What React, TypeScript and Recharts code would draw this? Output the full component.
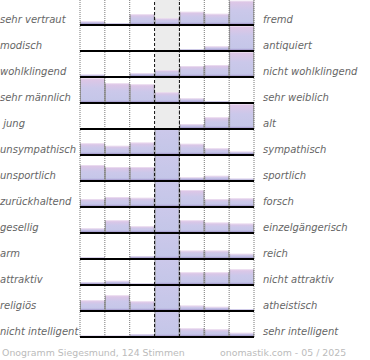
import React from 'react';
import { BarChart, Bar, XAxis, YAxis, ReferenceLine, ReferenceArea } from 'recharts';

const leftLabels = [
  'sehr vertraut', 'modisch', 'wohlklingend', 'sehr männlich', ' jung', 'unsympathisch',
  'unsportlich', 'zurückhaltend', 'gesellig', 'arm', 'attraktiv', 'religiös', 'nicht intelligent',
];
const rightLabels = [
  'fremd', 'antiquiert', 'nicht wohlklingend', 'sehr weiblich', 'alt', 'sympathisch',
  'sportlich', 'forsch', 'einzelgängerisch', 'reich', 'nicht attraktiv', 'atheistisch', 'sehr intelligent',
];
const steps = ['1', '2', '3', '4', '5', '6', '7'];

// share per step (scale top = 100, values above are off the scale)
const rowVertraut = [15, 7, 43, 27, 53, 45, 97];
const rowModisch = [0, 0, 0, 0, 8, 19, 100];
const rowWohlklingend = [9, 0, 16, 28, 44, 48, 100];
const rowMaennlich = [99, 79, 75, 43, 19, 8, 0];
const rowJung = [0, 4, 0, 0, 20, 47, 100];
const rowSympathisch = [47, 37, 50, 160, 45, 27, 14];
const rowSportlich = [64, 56, 56, 160, 15, 21, 9];
const rowForsch = [32, 40, 37, 160, 68, 32, 35];
const rowGesellig = [19, 51, 27, 160, 51, 42, 38];
const rowReich = [6, 0, 11, 160, 34, 34, 21];
const rowAttraktiv = [11, 17, 6, 160, 51, 51, 63];
const rowReligioes = [43, 63, 39, 160, 22, 17, 7];
const rowIntelligent = [5, 5, 10, 160, 35, 31, 17];

const rows = [
  rowVertraut, rowModisch, rowWohlklingend, rowMaennlich, rowJung, rowSympathisch,
  rowSportlich, rowForsch, rowGesellig, rowReich, rowAttraktiv, rowReligioes, rowIntelligent,
];

const footerLeft = 'Onogramm Siegesmund, 124 Stimmen';
const footerRight = 'onomastik.com - 05 / 2025';

const ROW_H = 26;
const PLOT_LEFT = 80;
const PLOT_W = 174;
const midStep = steps[Math.floor(steps.length / 2)];

const makeShape = (i: number) => (p: any) => {
  const { x, y, width, height } = p;
  if (!(height > 0)) return <g />;
  const strip = Math.min(2.5, height);
  return (
    <g>
      <rect x={x} y={y} width={width} height={height} fill={`url(#body-${i})`} />
      <rect x={x} y={y + height - strip} width={width} height={strip} fill={`url(#foot-${i})`} />
      <line x1={x + 0.5} x2={x + 0.5} y1={y} y2={y + height} stroke="#9a9a9a" strokeWidth={1} />
      <line x1={x + width - 0.5} x2={x + width - 0.5} y1={y} y2={y + height} stroke="#9a9a9a" strokeWidth={1} />
      <line x1={x} x2={x + width} y1={y + 0.5} y2={y + 0.5} stroke="#ffffff" strokeOpacity={0.35} strokeWidth={1} />
    </g>
  );
};

const labelFont = { fontFamily: 'DejaVu Sans', fontStyle: 'italic' as const, fontSize: 10, fill: '#666' };

export default function App() {
  return (
    <div style={{ position: 'absolute', left: 0, top: 0, width: 370, height: 360, background: '#fff' }}>
      <svg width={370} height={360} style={{ position: 'absolute', left: 0, top: 0 }}>
        {leftLabels.map((t, i) => (
          <text key={'l' + i} x={0} y={i * ROW_H + 23} {...labelFont} style={{ whiteSpace: 'pre' }}>
            {t}
          </text>
        ))}
        {rightLabels.map((t, i) => (
          <text key={'r' + i} x={263} y={i * ROW_H + 23} {...labelFont}>
            {t}
          </text>
        ))}
        <text x={2} y={356} fontFamily="DejaVu Sans" fontSize={9.4} fill="#bbb">{footerLeft}</text>
        <text x={220} y={356} fontFamily="DejaVu Sans" fontSize={9.4} fill="#bbb">{footerRight}</text>
      </svg>
      {rows.map((vals, i) => {
        const data = steps.map((s, k) => ({ step: s, v: vals[k] }));
        return (
          <div key={i} style={{ position: 'absolute', left: PLOT_LEFT - 1, top: i * ROW_H }}>
            <BarChart
              width={PLOT_W + 2}
              height={ROW_H}
              data={data}
              margin={{ top: 0, right: 1, bottom: 1, left: 1 }}
              barCategoryGap={0}
              barGap={0}
            >
              <defs>
                <linearGradient id={`body-${i}`} x1="0" y1="0" x2="0" y2="1">
                  <stop offset="0" stopColor="#e0c6e6" />
                  <stop offset="0.4" stopColor="#cbc8ea" />
                  <stop offset="1" stopColor="#c3c6e8" />
                </linearGradient>
                <linearGradient id={`foot-${i}`} x1="0" y1="0" x2="0" y2="1">
                  <stop offset="0" stopColor="#bab6e0" />
                  <stop offset="1" stopColor="#9a8cc2" />
                </linearGradient>
              </defs>
              <XAxis dataKey="step" type="category" hide />
              <YAxis domain={[0, 100]} hide allowDataOverflow />
              <ReferenceArea x1={midStep} x2={midStep} fill="#ececec" fillOpacity={1} stroke="none" />
              <Bar dataKey="v" isAnimationActive={false} shape={makeShape(i)} />
              {steps.map((s) => (
                <ReferenceLine
                  key={'s' + s}
                  x={s}
                  position="start"
                  stroke={s === midStep ? '#111' : '#777'}
                  strokeDasharray={s === midStep ? '3 2' : '1 1'}
                  strokeWidth={1}
                />
              ))}
              <ReferenceLine x={midStep} position="end" stroke="#111" strokeDasharray="3 2" strokeWidth={1} />
              <ReferenceLine x={steps[steps.length - 1]} position="end" stroke="#777" strokeDasharray="1 1" strokeWidth={1} />
              <ReferenceLine y={0} stroke="#000" strokeWidth={2} />
            </BarChart>
          </div>
        );
      })}
    </div>
  );
}
